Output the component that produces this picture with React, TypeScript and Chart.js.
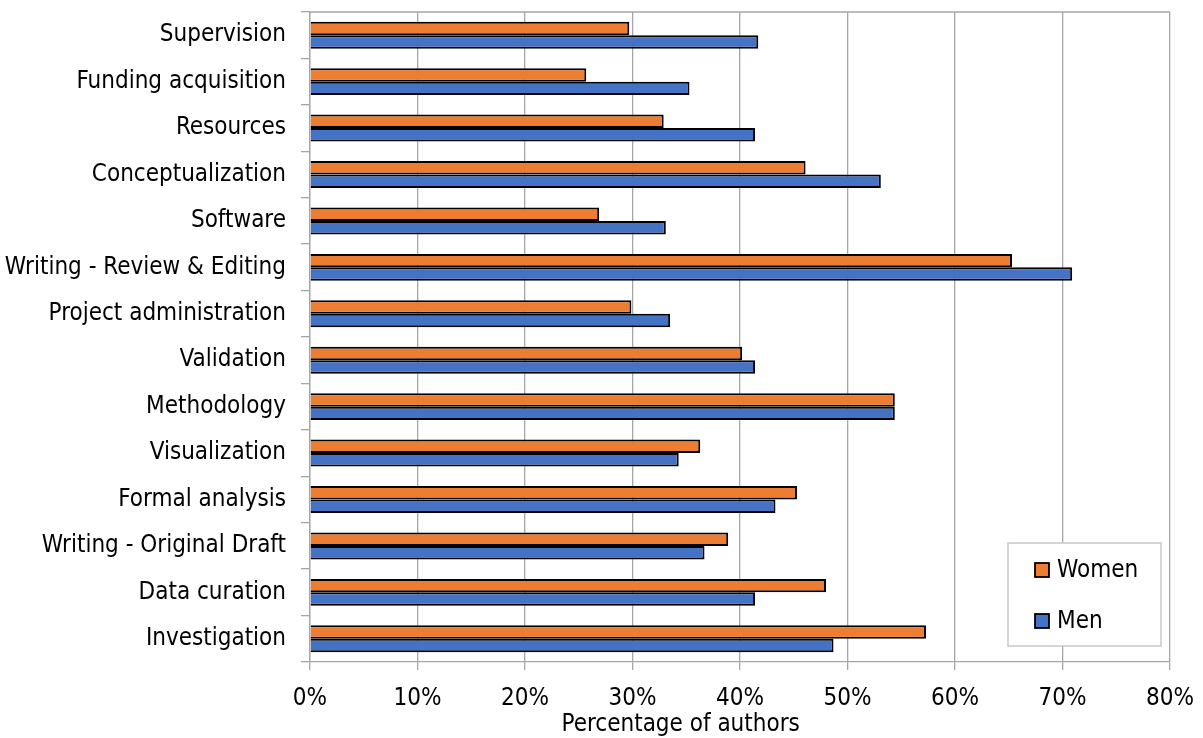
import React, { useEffect, useRef } from "react";
import { Chart, registerables } from "chart.js";

Chart.register(...registerables);

const categories = [
  "Supervision",
  "Funding acquisition",
  "Resources",
  "Conceptualization",
  "Software",
  "Writing - Review & Editing",
  "Project administration",
  "Validation",
  "Methodology",
  "Visualization",
  "Formal analysis",
  "Writing - Original Draft",
  "Data curation",
  "Investigation",
];

const womenValues = [29.7, 25.7, 32.9, 46.1, 26.9, 65.3, 29.9, 40.2, 54.4, 36.3, 45.3, 38.9, 48.0, 57.3];
const menValues = [41.7, 35.3, 41.4, 53.1, 33.1, 70.9, 33.5, 41.4, 54.4, 34.3, 43.3, 36.7, 41.4, 48.7];

const seriesNames = ["Women", "Men"];
const seriesColors = ["#ED7D31", "#4472C4"];
const axisTitle = "Percentage of authors";

const FONT = "'DejaVu Sans Condensed', 'Liberation Sans', sans-serif";
const FONT_SIZE = 24;

const extrasPlugin = {
  id: "extras",
  afterDraw(chart: any) {
    const { ctx, chartArea } = chart;
    const { left, right, top, bottom } = chartArea;
    ctx.save();
    // top border line
    ctx.strokeStyle = "#a6a6a6";
    ctx.lineWidth = 1.3;
    ctx.beginPath();
    ctx.moveTo(left, top);
    ctx.lineTo(right, top);
    ctx.stroke();

    // axis title
    ctx.fillStyle = "#000";
    ctx.font = `${FONT_SIZE}px ${FONT}`;
    ctx.textAlign = "center";
    ctx.textBaseline = "middle";
    ctx.fillText(axisTitle, left + (right - left) * 0.431, chart.height - 13);

    // legend box
    const bx = right - 162;
    const by = bottom - 119;
    const bw = 153;
    const bh = 103;
    ctx.fillStyle = "#fff";
    ctx.fillRect(bx, by, bw, bh);
    ctx.strokeStyle = "#c8c8c8";
    ctx.lineWidth = 1.5;
    ctx.strokeRect(bx, by, bw, bh);
    seriesNames.forEach((name, i) => {
      const cy = by + 27 + i * 51;
      ctx.fillStyle = seriesColors[i];
      ctx.fillRect(bx + 27, cy - 7, 14, 14);
      ctx.strokeStyle = "#000";
      ctx.lineWidth = 1.8;
      ctx.strokeRect(bx + 27, cy - 7, 14, 14);
      ctx.fillStyle = "#000";
      ctx.font = `${FONT_SIZE}px ${FONT}`;
      ctx.textAlign = "left";
      ctx.textBaseline = "middle";
      ctx.fillText(name, bx + 49, cy + 1);
    });
    ctx.restore();
  },
};

export default function App() {
  const canvasRef = useRef<HTMLCanvasElement | null>(null);

  useEffect(() => {
    document.body.style.margin = "0";
    const canvas = canvasRef.current;
    if (!canvas) return;
    const chart = new Chart(canvas, {
      type: "bar",
      data: {
        labels: categories,
        datasets: [
          {
            label: seriesNames[0],
            data: womenValues,
            backgroundColor: seriesColors[0],
            borderColor: "#000",
            borderWidth: 2,
            categoryPercentage: 0.58,
            barPercentage: 1.0,
          },
          {
            label: seriesNames[1],
            data: menValues,
            backgroundColor: seriesColors[1],
            borderColor: "#000",
            borderWidth: 2,
            categoryPercentage: 0.58,
            barPercentage: 1.0,
          },
        ],
      },
      options: {
        indexAxis: "y",
        animation: false,
        responsive: true,
        maintainAspectRatio: false,
        layout: { padding: { top: 12, right: 33, left: 0, bottom: 0 } },
        plugins: {
          legend: { display: false },
          tooltip: { enabled: false },
          title: { display: false },
        },
        scales: {
          x: {
            min: 0,
            max: 80,
            ticks: {
              stepSize: 10,
              color: "#000",
              font: { family: FONT, size: FONT_SIZE },
              padding: 14,
              callback: (v: any) => `${v}%`,
            },
            grid: {
              color: "#a6a6a6",
              lineWidth: 1.3,
              drawTicks: true,
              tickLength: 8,
            },
            border: { color: "#a6a6a6", width: 1.3 },
            afterFit: (s: any) => {
              s.height = 76;
              s.paddingLeft = 0;
              s.paddingRight = 0;
            },
          },
          y: {
            ticks: {
              color: "#000",
              font: { family: FONT, size: FONT_SIZE },
              padding: 15,
              autoSkip: false,
            },
            grid: {
              drawOnChartArea: false,
              drawTicks: true,
              tickLength: 9,
              color: "#a6a6a6",
              lineWidth: 1.3,
              offset: true,
            },
            border: { color: "#a6a6a6", width: 1.3 },
            afterFit: (s: any) => {
              s.width = 310;
              s.paddingTop = 0;
              s.paddingBottom = 0;
            },
          },
        },
      },
      plugins: [extrasPlugin],
    });
    return () => chart.destroy();
  }, []);

  return (
    <div style={{ width: 1203, height: 738, position: "relative" }}>
      <canvas ref={canvasRef} />
    </div>
  );
}
